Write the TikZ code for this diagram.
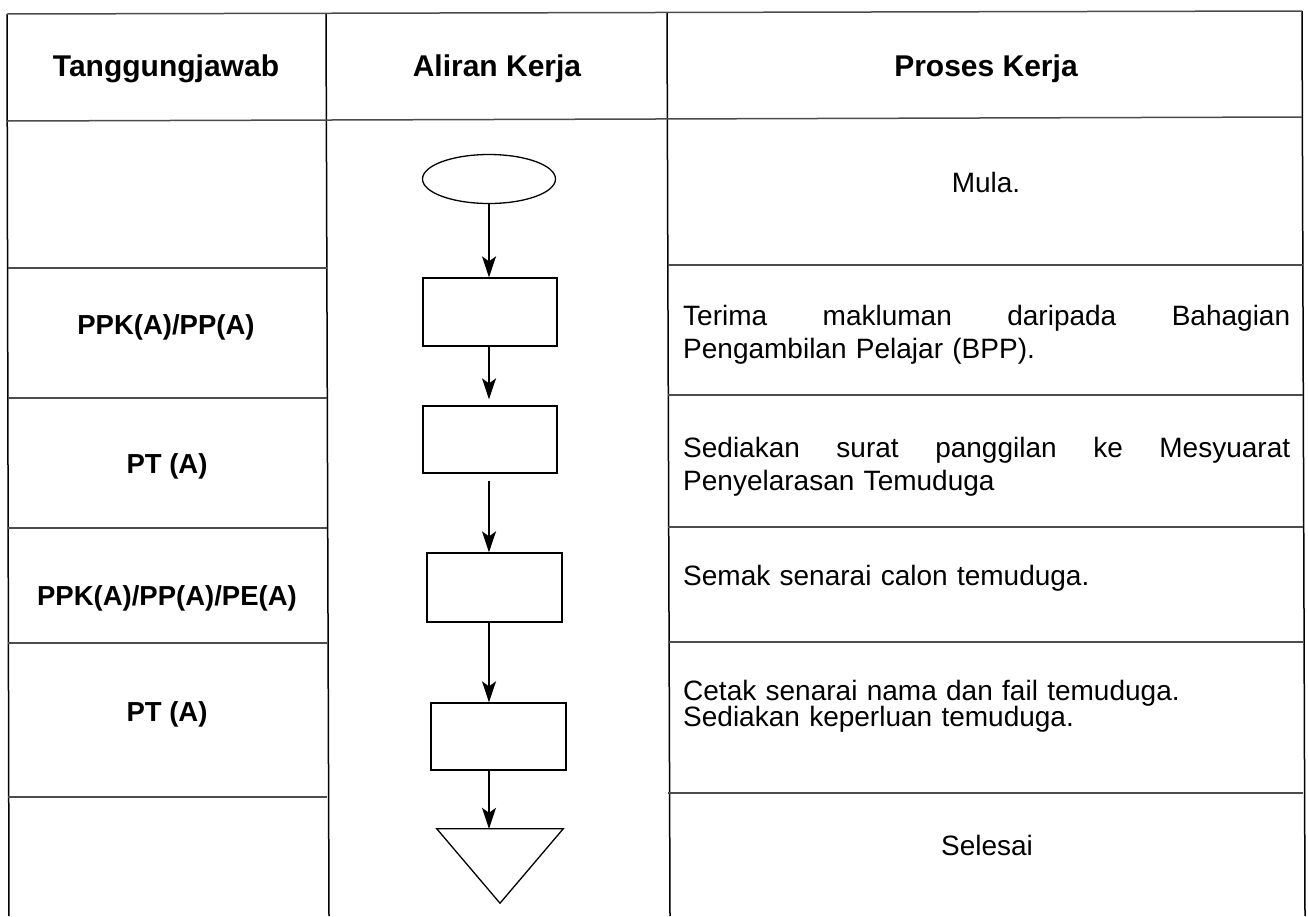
\documentclass[tikz,border=0pt]{standalone}
\usepackage{fontspec}
\setmainfont{Liberation Sans}
\usetikzlibrary{arrows.meta,shapes.geometric,calc}
\begin{document}
\begin{tikzpicture}[x=1pt,y=-1pt,
  vline/.style={line width=1.5pt, black},
  hline/.style={line width=1.5pt, black!70},
  hdr/.style={font=\fontsize{30}{36}\selectfont\bfseries, anchor=base, inner sep=0},
  who/.style={font=\fontsize{27.5}{33}\selectfont\bfseries, anchor=base, inner sep=0},
  body/.style={font=\fontsize{28}{33.5}\selectfont, anchor=base west, inner sep=0, text width=607pt, align=left},
  ctr/.style={font=\fontsize{28}{32}\selectfont, anchor=base, inner sep=0},
  flowbox/.style={draw, line width=1.3pt, minimum width=134pt, minimum height=68pt, inner sep=0},
  arr/.style={line width=1.6pt, -{Stealth[length=21pt,width=14pt,inset=5pt]}}
]
\useasboundingbox (0,0) rectangle (1308,916);
% table frame
\draw[vline] (7,14) -- (9,916);
\draw[vline] (326,13) -- (329,916);
\draw[vline] (667,12) -- (670,916);
\draw[vline] (1302,11) -- (1305,916);
\draw[hline] (7,14) -- (1302,11);
\draw[hline] (7,121) -- (1302,117);
\foreach \y in {268,398,528,643,797} \draw[hline] (8,\y) -- (327,\y);
\foreach \y in {265,395,527,642,793} \draw[hline] (668,\y) -- (1303,\y);
% headers
\node[hdr] (h1) at (166,76) {Tanggungjawab};
\node[hdr] (h2) at (497,76) {Aliran Kerja};
\node[hdr] (h3) at (986,76) {Proses Kerja};
% responsibility
\node[who] (w1) at (166,334) {PPK(A)/PP(A)};
\node[who] (w2) at (167,473) {PT (A)};
\node[who] (w3) at (167,605) {PPK(A)/PP(A)/PE(A)};
\node[who] (w4) at (167,721) {PT (A)};
% process text
\node[ctr] (p0) at (986,192) {Mula.};
\node[body] (p1) at (683,325) {Terima\hfill makluman\hfill daripada\hfill Bahagian\\Pengambilan Pelajar (BPP).};
\node[body] (p2) at (683,457) {Sediakan\hfill surat\hfill panggilan\hfill ke\hfill Mesyuarat\\Penyelarasan Temuduga};
\node[body] (p3) at (683,585) {Semak senarai calon temuduga.};
\node[body, font=\fontsize{28}{26.5}\selectfont] (p4) at (683,700) {Cetak senarai nama dan fail temuduga.\\Sediakan keperluan temuduga.};
\node[ctr] (p5) at (987,855) {Selesai};
% flowchart
\node[draw, ellipse, line width=1.3pt, minimum width=133pt, minimum height=49pt, inner sep=0] (start) at (489,179) {};
\node[flowbox] (b1) at (490,312) {};
\node[flowbox, minimum height=67pt] (b2) at (490,439.5) {};
\node[flowbox, minimum width=135pt, minimum height=69pt] (b3) at (494.5,587.5) {};
\node[flowbox, minimum width=135pt, minimum height=67pt] (b4) at (498.5,736.5) {};
\node[minimum width=126pt, minimum height=74pt, inner sep=0] (end) at (500,866) {};
\draw[line width=1.3pt] (end.north west) -- (end.north east) -- (end.south) -- cycle;
\draw[arr] (start.south) -- (b1.north -| start.south);
\draw[arr, shorten >=6pt] (b1.south -| start.south) -- (b2.north -| start.south);
\draw[arr, shorten <=7pt] (b2.south -| start.south) -- (b3.north -| start.south);
\draw[arr] (b3.south -| start.south) -- (b4.north -| start.south);
\draw[arr] (b4.south -| start.south) -- (end.north -| start.south);
\end{tikzpicture}
\end{document}
